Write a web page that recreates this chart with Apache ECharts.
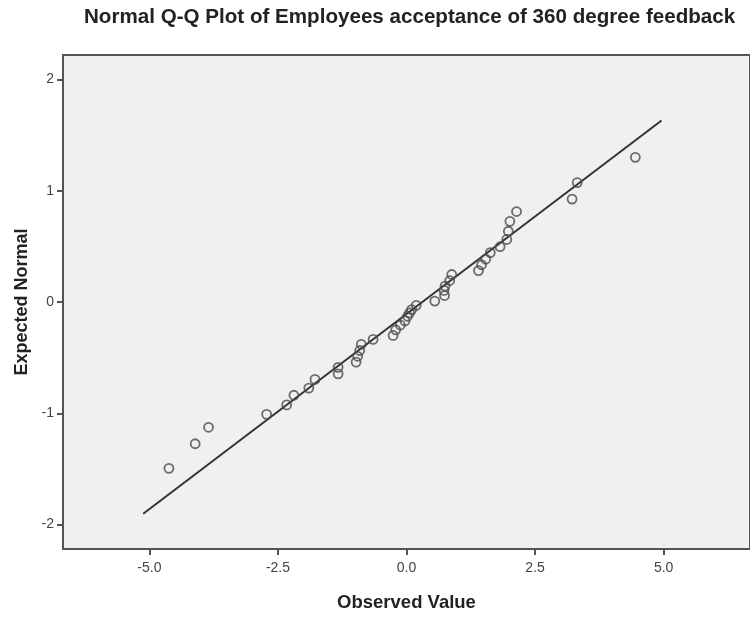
<!DOCTYPE html>
<html><head><meta charset="utf-8">
<script src="https://cdn.jsdelivr.net/npm/echarts@6/dist/echarts.min.js"></script>
<style>html,body{margin:0;padding:0;background:#fff}#c{width:750px;height:617px}</style>
</head><body><div id="c"></div>
<script>
// Observed values (x) and expected normal values (y)
var observed = [-4.62,-4.11,-3.85,-2.72,-2.33,-2.19,-1.90,-1.78,-1.33,-1.33,-0.98,-0.95,-0.91,-0.88,-0.65,-0.26,-0.21,-0.12,-0.03,0.02,0.06,0.10,0.19,0.55,0.74,0.73,0.75,0.84,0.88,1.40,1.46,1.54,1.63,1.82,1.95,1.98,2.01,2.14,3.22,3.32,4.45];
var expected = [-1.495,-1.274,-1.126,-1.010,-0.925,-0.838,-0.774,-0.696,-0.646,-0.587,-0.540,-0.488,-0.436,-0.380,-0.336,-0.300,-0.250,-0.207,-0.170,-0.128,-0.098,-0.068,-0.030,0.008,0.058,0.104,0.143,0.193,0.247,0.282,0.335,0.385,0.444,0.497,0.562,0.636,0.725,0.813,0.925,1.073,1.300];
var lineX = [-5.12, 4.96];
var lineY = [-1.903, 1.631];
var xTicks = [-5, -2.5, 0, 2.5, 5];
var yTicks = [-2, -1, 0, 1, 2];

var pts = observed.map(function(v,i){return [v, expected[i]];});
var linePts = lineX.map(function(v,i){return [v, lineY[i]];});
var FONT = 'Liberation Sans, Arial, sans-serif';

var chart = echarts.init(document.getElementById('c'), null, {renderer:'canvas'});
chart.setOption({
  backgroundColor:'#ffffff',
  animation:false,
  title:{text:'Normal Q-Q Plot of Employees acceptance of 360 degree feedback', left:84, top:7, padding:0,
    textStyle:{fontFamily:FONT, fontSize:20.6, fontWeight:'bold', color:'#222'}},
  grid:{left:63, top:55, width:695, height:501, show:true, backgroundColor:'#f0f0f0', borderColor:'#555', borderWidth:2, containLabel:false},
  xAxis:{type:'value', min:-6.68, max:6.68,
    name:'Observed Value', nameLocation:'middle', nameGap:44,
    nameTextStyle:{fontFamily:FONT, fontSize:18.5, fontWeight:'bold', color:'#222'},
    axisLine:{show:true, onZero:false, lineStyle:{color:'#555', width:2}}, splitLine:{show:false},
    axisTick:{show:true, customValues:xTicks, length:6, lineStyle:{color:'#555', width:2}},
    axisLabel:{customValues:xTicks, margin:12, fontFamily:FONT, fontSize:14, color:'#444',
      formatter:function(v){return v.toFixed(1);}}},
  yAxis:{type:'value', min:-2.22, max:2.22,
    name:'Expected Normal', nameLocation:'middle', nameGap:29, nameRotate:90,
    nameTextStyle:{fontFamily:FONT, fontSize:18, fontWeight:'bold', color:'#222'},
    axisLine:{show:true, onZero:false, lineStyle:{color:'#555', width:2}}, splitLine:{show:false},
    axisTick:{show:true, customValues:yTicks, length:6, lineStyle:{color:'#555', width:2}},
    axisLabel:{customValues:yTicks, margin:9, fontFamily:FONT, fontSize:14, color:'#444',
      formatter:function(v){return String(v);}}},
  series:[
    {type:'line', data:linePts, symbol:'none', lineStyle:{color:'#333', width:2}, silent:true, z:2},
    {type:'scatter', data:pts, symbol:'circle', symbolSize:9,
      itemStyle:{color:'rgba(0,0,0,0)', borderColor:'#4a4a4a', borderWidth:1.8}, z:3}
  ]
});
</script></body></html>
